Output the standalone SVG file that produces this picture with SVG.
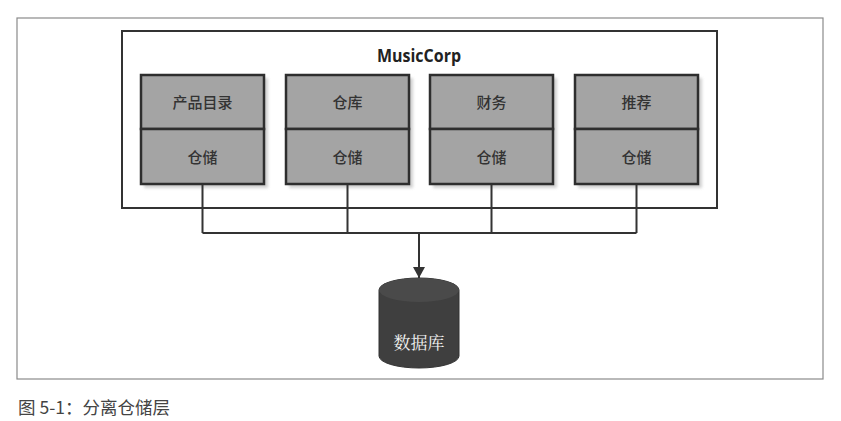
<svg xmlns="http://www.w3.org/2000/svg" width="841" height="421" viewBox="0 0 841 421">
<defs>
<style>
.frame{fill:none;stroke:#8a8a8a;stroke-width:1.2}
.corp{fill:#fff;stroke:#333;stroke-width:2}
.box{fill:#a4a4a4;stroke:#2e2e2e;stroke-width:2.5}
.shadow{fill:#bdbdbd;opacity:0.7}
.lbl{font-family:"Noto Sans CJK SC","Noto Sans",sans-serif;font-size:15px;font-weight:500;fill:#333;text-anchor:middle}
.wire{fill:none;stroke:#333;stroke-width:2}
.title{font-family:"Open Sans","Liberation Sans",sans-serif;font-weight:bold;font-size:18px;fill:#222;text-anchor:middle}
.cap{font-family:"Noto Sans CJK SC","Noto Sans",sans-serif;font-size:17.5px;fill:#444}
</style>
<marker id="arr" markerWidth="12" markerHeight="12" refX="11" refY="6" orient="auto" markerUnits="userSpaceOnUse">
<path d="M0,0 L11,6 L0,12 Z" fill="#333"/>
</marker>
<filter id="sh" x="-10%" y="-10%" width="130%" height="130%"><feGaussianBlur stdDeviation="1.5"/></filter>
</defs>
<rect x="0" y="0" width="841" height="421" fill="#fff"/>
<rect class="frame" x="17" y="18" width="806" height="361"/>
<g id="musiccorp">
<rect class="corp" x="122" y="31" width="595" height="177"/>
<text class="title" x="419" y="62" textLength="84" lengthAdjust="spacingAndGlyphs">MusicCorp</text>
</g>
<g id="catalog">
<rect class="shadow" x="144" y="78" width="124" height="110" filter="url(#sh)"/>
<rect class="box" x="141" y="75" width="123" height="54"/>
<rect class="box" x="141" y="129" width="123" height="55"/>
<text class="lbl" x="202.5" y="108">产品目录</text>
<text class="lbl" x="202.5" y="163">仓储</text>
</g>
<g id="warehouse">
<rect class="shadow" x="289" y="78" width="124" height="110" filter="url(#sh)"/>
<rect class="box" x="286" y="75" width="123" height="54"/>
<rect class="box" x="286" y="129" width="123" height="55"/>
<text class="lbl" x="347.5" y="108">仓库</text>
<text class="lbl" x="347.5" y="163">仓储</text>
</g>
<g id="finance">
<rect class="shadow" x="433" y="78" width="124" height="110" filter="url(#sh)"/>
<rect class="box" x="430" y="75" width="123" height="54"/>
<rect class="box" x="430" y="129" width="123" height="55"/>
<text class="lbl" x="491.5" y="108">财务</text>
<text class="lbl" x="491.5" y="163">仓储</text>
</g>
<g id="recommend">
<rect class="shadow" x="578" y="78" width="124" height="110" filter="url(#sh)"/>
<rect class="box" x="575" y="75" width="123" height="54"/>
<rect class="box" x="575" y="129" width="123" height="55"/>
<text class="lbl" x="636.5" y="108">推荐</text>
<text class="lbl" x="636.5" y="163">仓储</text>
</g>
<g id="connectors">
<path class="wire" d="M202.5,185 V233 M347.5,185 V233 M491.5,185 V233 M636.5,185 V233 M202.5,233 H636.5"/>
<path class="wire" d="M419,233 V278" marker-end="url(#arr)"/>
</g>
<g id="database">
<path d="M379,290 A40,12 0 0 1 459,290 V356 A40,12 0 0 1 379,356 Z" fill="#3f3f3f" stroke="#333" stroke-width="1"/>
<ellipse cx="419" cy="290" rx="40" ry="12" fill="#4a4a4a"/>
<text x="419" y="349" font-family="'Noto Serif CJK SC','Noto Sans CJK SC',serif" font-size="17" fill="#f2f2f2" text-anchor="middle">数据库</text>
</g>
<text class="cap" x="18" y="414">图 5-1：分离仓储层</text>
</svg>
